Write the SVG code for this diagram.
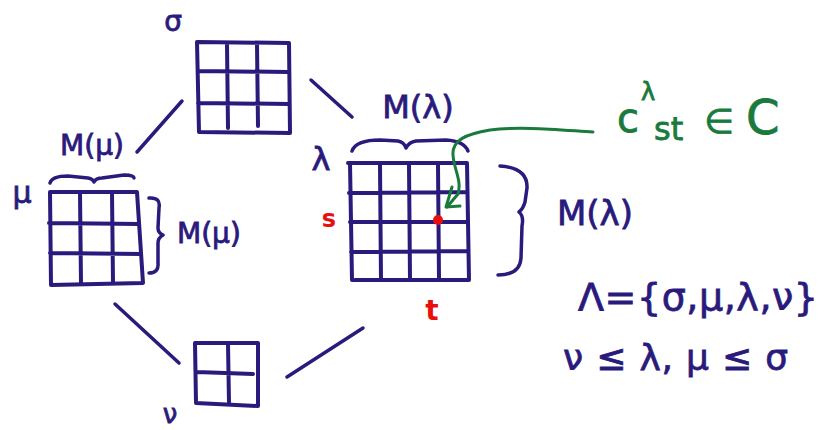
<svg xmlns="http://www.w3.org/2000/svg" width="829" height="430" viewBox="0 0 829 430">
<style>
.ink{fill:none;stroke:#2a1a7c;stroke-width:4;stroke-linecap:round;stroke-linejoin:round}
.thin{fill:none;stroke:#2a1a7c;stroke-width:3.5;stroke-linecap:round;stroke-linejoin:round}
.grn{fill:none;stroke:#1a7a3c;stroke-width:3;stroke-linecap:round;stroke-linejoin:round}
.t{font-family:"DejaVu Sans","Liberation Sans",sans-serif;fill:#2a1a7c;stroke:#2a1a7c;stroke-width:0.8}
.g{font-family:"DejaVu Sans","Liberation Sans",sans-serif;fill:#1a7a3c;stroke:#1a7a3c;stroke-width:0.8}
.r{font-family:"DejaVu Sans","Liberation Sans",sans-serif;fill:#e8100c;font-weight:bold}
</style>
<rect width="829" height="430" fill="#ffffff"/>
<g id="connectors">
<line class="thin" x1="182" y1="101" x2="137" y2="152"/>
<line class="thin" x1="311" y1="80" x2="352" y2="117"/>
<line class="thin" x1="115" y1="304" x2="179" y2="363"/>
<line class="thin" x1="363" y1="328" x2="287" y2="377"/>
</g>
<g id="sigma">
<path class="ink" d="M197,42 L289,43 L290,133 L199,132 Z M227,44 L228,128 M257,44 L258,126 M198,71 L288,72 M198,103 L289,104"/>
<text class="t" x="173" y="31" font-size="28" text-anchor="middle">σ</text>
</g>
<g id="mu">
<path class="ink" d="M50,192 L137,192 L143,283 L51,285 Z M80,193 L81,283 M112,193 L113,282 M49,223 L139,224 M50,253 L141,254"/>
<text class="t" x="22" y="203" font-size="30" text-anchor="middle">μ</text>
<text class="t" x="92" y="155" font-size="28" text-anchor="middle">M(μ)</text>
<path class="thin" d="M50,183 Q52,176 68,176 L88,178 Q93,179 94,182 Q96,178 102,178 L124,175 Q134,175 134,178"/>
<path class="thin" d="M149,198 Q161,197 159,208 L158,228 Q158,233 163,235 Q158,238 158,243 L158,263 Q159,273 149,273"/>
<text class="t" x="177" y="243" font-size="28">M(μ)</text>
</g>
<g id="lambda">
<path class="ink" d="M348,163 L467,163 L469,280 L355,280 M350,163 L352,280 M380,165 L381,280 M409,165 L410,279 M438,165 L439,279 M349,193 L467,192 M350,222 L468,222 M351,252 L468,251"/>
<circle cx="438" cy="220" r="5" fill="#e8100c"/>
<text class="t" x="321" y="170" font-size="32" text-anchor="middle">λ</text>
<text class="t" x="418" y="118" font-size="32" text-anchor="middle">M(λ)</text>
<path class="thin" d="M352,151 Q356,140 380,140 L398,141 Q404,142 406,148 Q409,142 416,141 L446,140 Q464,141 468,151"/>
<path class="thin" d="M500,166 Q528,168 527,188 L525,202 Q523,209 519,212 Q524,216 522,226 L521,258 Q520,275 498,275"/>
<text class="t" x="557" y="225" font-size="34">M(λ)</text>
<text class="r" x="329" y="227" font-size="24" text-anchor="middle">s</text>
<text class="r" x="432" y="320" font-size="28" text-anchor="middle">t</text>
</g>
<g id="nu">
<path class="ink" d="M195,343 L258,343 L258,406 L196,403 Z M228,344 L229,403 M197,372 L253,374"/>
<text class="t" x="170" y="423" font-size="26" text-anchor="middle">ν</text>
</g>
<g id="cst">
<path class="grn" d="M593,132 C560,130 520,126 490,130 C466,134 452,140 453,155 C454,170 462,180 458,194 L447,207"/>
<path class="grn" d="M452,187 L446,207 L460,206"/>
<text class="g" x="617" y="132" font-size="40">c</text>
<text class="g" x="641" y="100" font-size="24">λ</text>
<text class="g" x="654" y="140" font-size="32">st</text>
<text class="g" x="719" y="133" font-size="34" text-anchor="middle">∈</text>
<text class="g" x="746" y="134" font-size="48">C</text>
</g>
<g id="formulas">
<text class="t" x="578" y="310" font-size="38" textLength="240" lengthAdjust="spacing">Λ={σ,μ,λ,ν}</text>
<text class="t" x="563" y="370" font-size="36" textLength="225" lengthAdjust="spacing">ν ≤ λ, μ ≤ σ</text>
</g>
</svg>
